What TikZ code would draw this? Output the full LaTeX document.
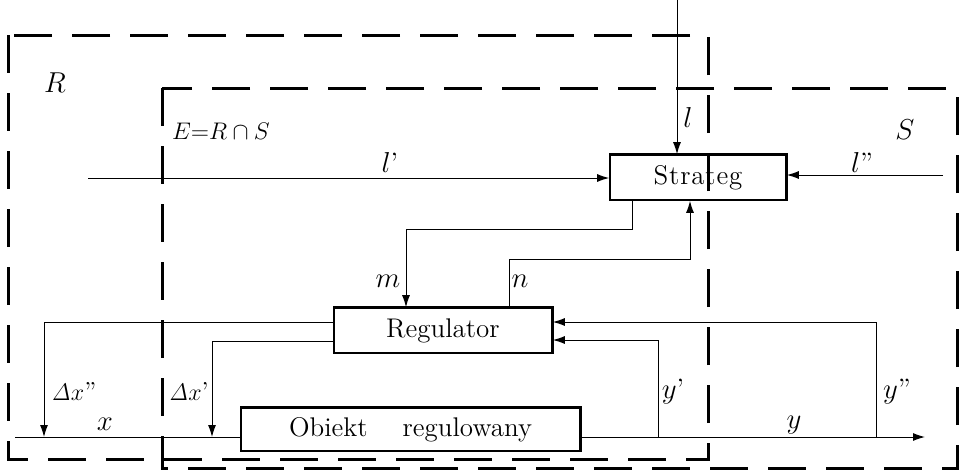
\documentclass[tikz,border=0pt]{standalone}
\usetikzlibrary{arrows.meta}
\begin{document}
\begin{tikzpicture}[x=0.5pt,y=-0.5pt,
  region/.style={line width=1.5pt,dash pattern=on 19pt off 10pt},
  conn/.style={line width=0.5pt},
  arr/.style={conn,-{Latex[length=6pt,width=4pt]}},
  blockbox/.style={draw,line width=0.8pt,inner sep=0pt,font=\fontsize{13.5}{16}\selectfont},
  lab/.style={font=\fontsize{14}{16}\selectfont,inner sep=0pt},
  smalllab/.style={font=\fontsize{13}{15}\selectfont,inner sep=0pt}]
\useasboundingbox (0,0) rectangle (966,472);
% regions
\draw[region] (8,35) rectangle (708,459);
\draw[region] (162,88) rectangle (957,468);
% blocks
\node[blockbox,minimum width=88pt,minimum height=22.5pt] (st) at (698,177.5) {S\kern0.4pt t\kern0.4pt r\kern0.4pt a\kern0.4pt t\kern0.4pt e\kern0.4pt g};
\node[blockbox,minimum width=109pt,minimum height=22.5pt] (reg) at (443,330.5) {Regulator};
\node[blockbox,minimum width=169.5pt,minimum height=21.5pt] (ob) at (410.5,429.5) {Obiekt\hspace{1.3em}regulowany};
\foreach \b in {st,reg,ob}{
  \draw[line width=1.6pt] (\b.north west) -- (\b.north east) -- (\b.south east);
}
% coordinates
\coordinate (ltop) at (677,0);
\coordinate (lp) at (88,178);
\coordinate (lpp) at (943,175);
\coordinate (m1) at (632,229);
\coordinate (m2) at (406,229);
\coordinate (n1) at (509,259);
\coordinate (n2) at (690,259);
\coordinate (xin) at (15,437);
\coordinate (yout) at (925,437);
\coordinate (dxa) at (44,322);
\coordinate (dxb) at (212,341);
\coordinate (ya) at (658,340);
\coordinate (yb) at (876,322);
% connectors
\draw[arr] (ltop) -- (st.north -| ltop);
\draw[arr] (lp) -- (st.west |- lp);
\draw[arr] (lpp) -- (st.east |- lpp);
\draw[arr] (st.south -| m1) -- (m1) -- (m2) -- (reg.north -| m2);
\draw[arr] (reg.north -| n1) -- (n1) -- (n2) -- (st.south -| n2);
\draw[conn] (xin) -- (ob.west |- xin);
\draw[arr] (ob.east |- yout) -- (yout);
\draw[arr] (reg.west |- dxa) -- (dxa) -- (dxa |- xin);
\draw[arr] (reg.west |- dxb) -- (dxb) -- (dxb |- xin);
\draw[arr] (ya |- yout) -- (ya) -- (reg.east |- ya);
\draw[arr] (yb |- yout) -- (yb) -- (reg.east |- yb);
% labels
\node[lab] (lR) at (55,83) {$R$};
\node[font=\fontsize{12}{14}\selectfont,inner sep=0pt] (lE) at (221,131) {$E{=}R\cap S$};
\node[lab] (lS) at (905,130) {$S$};
\node[lab] (ll) at (688,117) {$l$};
\node[lab] (llp) at (390,162) {$l$'};
\node[lab] (llpp) at (862,162) {$l$''};
\node[lab] (lm) at (388,281) {$m$};
\node[lab] (ln) at (520,281) {$n$};
\node[smalllab] (ldxa) at (74,391) {$\mathit{\Delta} x$''};
\node[smalllab] (ldxb) at (189,391) {$\mathit{\Delta} x$'};
\node[lab] (lx) at (105,424) {$x$};
\node[lab] (ly) at (794,425) {$y$};
\node[lab] (lya) at (673,392) {$y$'};
\node[lab] (lyb) at (897,392) {$y$''};
\end{tikzpicture}
\end{document}
